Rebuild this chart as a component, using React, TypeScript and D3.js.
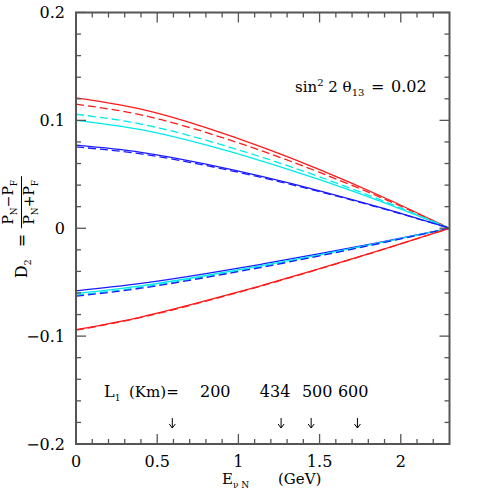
import { useEffect, useRef } from 'react';
import * as d3 from 'd3';

// energies where the curves were read (GeV)
const energy = [0, 0.4, 0.8, 1.15, 1.5, 1.9, 2.3];

// upper branch
const redSolidUp = [0.1208, 0.1104, 0.0933, 0.075, 0.0544, 0.0283, 0];
const redDashUp = [0.115, 0.1051, 0.0888, 0.0714, 0.0518, 0.027, 0];
const cyanDashUp = [0.1057, 0.0966, 0.0816, 0.0656, 0.0476, 0.0248, 0];
const cyanSolidUp = [0.1, 0.0914, 0.0772, 0.0621, 0.045, 0.0235, 0];
const blueSolidUp = [0.077, 0.0704, 0.0594, 0.0478, 0.0347, 0.0181, 0];
const blueDashUp = [0.0754, 0.0689, 0.0582, 0.0468, 0.0339, 0.0177, 0];

// lower branch
const blueSolidLo = [-0.058, -0.0511, -0.042, -0.0331, -0.0236, -0.0121, 0];
const cyanSolidLo = [-0.0605, -0.0534, -0.0438, -0.0345, -0.0246, -0.0126, 0];
const cyanDashLo = [-0.062, -0.0547, -0.0449, -0.0354, -0.0252, -0.0129, 0];
const blueDashLo = [-0.063, -0.0556, -0.0456, -0.036, -0.0256, -0.0131, 0];
const redSolidLo = [-0.094, -0.0823, -0.0672, -0.0528, -0.0375, -0.0191, 0];
const redDashLo = [-0.0945, -0.0827, -0.0676, -0.0531, -0.0377, -0.0192, 0];

// baseline arrows
const arrowEnergy = [0.593, 1.263, 1.448, 1.733];
const baselineLabels = ['434', '500', '600'];
const baselineLabelEnergy = [1.226, 1.485, 1.707];

const xTicks = [0, 0.5, 1, 1.5, 2];
const yTicks = [-0.2, -0.1, 0, 0.1, 0.2];

const RED = '#ff1a1a';
const CYAN = '#00eaea';
const BLUE = '#1a1aff';

const series = [
  { values: redSolidUp, color: RED, dash: null },
  { values: redDashUp, color: RED, dash: '8,4' },
  { values: cyanDashUp, color: CYAN, dash: '8,4' },
  { values: cyanSolidUp, color: CYAN, dash: null },
  { values: blueSolidUp, color: BLUE, dash: null },
  { values: blueDashUp, color: BLUE, dash: '8,4' },
  { values: blueSolidLo, color: BLUE, dash: null },
  { values: cyanSolidLo, color: CYAN, dash: null },
  { values: cyanDashLo, color: CYAN, dash: '8,4' },
  { values: blueDashLo, color: BLUE, dash: '8,4' },
  { values: redSolidLo, color: RED, dash: null },
  { values: redDashLo, color: RED, dash: '8,4' },
];

const FONT = '"DejaVu Serif", serif';

const App = () => {
  const svgRef = useRef<SVGSVGElement | null>(null);

  useEffect(() => {
    const width = 491;
    const height = 491;
    const margin = { top: 12.5, right: 41.5, bottom: 47, left: 76 };

    const svg = d3.select(svgRef.current);
    svg.selectAll('*').remove();
    svg.attr('width', width).attr('height', height);

    const x = d3
      .scaleLinear()
      .domain([0, 2.3])
      .range([margin.left, width - margin.right]);

    const y = d3
      .scaleLinear()
      .domain([-0.2, 0.2])
      .range([height - margin.bottom, margin.top]);

    const [x0, x1] = x.range();
    const [y0, y1] = y.range(); // y0 bottom, y1 top

    // curves
    const line = d3
      .line<number>()
      .x((_, i) => x(energy[i]))
      .y((d) => y(d))
      .curve(d3.curveNatural);

    series.forEach((s) => {
      svg
        .append('path')
        .attr('d', line(s.values))
        .attr('fill', 'none')
        .attr('stroke', s.color)
        .attr('stroke-width', 1.3)
        .attr('stroke-dasharray', s.dash);
    });

    // ticks on all four sides, pointing inward
    const tickColor = '#555';
    const ticks = svg.append('g').attr('stroke', tickColor).attr('stroke-width', 1.3);

    d3.range(0, 23).forEach((k) => {
      const v = k / 10;
      const len = k % 5 === 0 ? 10 : 5;
      ticks.append('line').attr('x1', x(v)).attr('x2', x(v)).attr('y1', y0).attr('y2', y0 - len);
      ticks.append('line').attr('x1', x(v)).attr('x2', x(v)).attr('y1', y1).attr('y2', y1 + len);
    });

    d3.range(-10, 11).forEach((k) => {
      const v = k / 50;
      const len = k % 5 === 0 ? 10 : 5;
      ticks.append('line').attr('x1', x0).attr('x2', x0 + len).attr('y1', y(v)).attr('y2', y(v));
      ticks.append('line').attr('x1', x1).attr('x2', x1 - len).attr('y1', y(v)).attr('y2', y(v));
    });

    // frame
    svg
      .append('rect')
      .attr('x', x0)
      .attr('y', y1)
      .attr('width', x1 - x0)
      .attr('height', y0 - y1)
      .attr('fill', 'none')
      .attr('stroke', tickColor)
      .attr('stroke-width', 2);

    // tick labels
    const fmt = (v: number) => (v === 0 ? '0' : String(v).replace('-', '\u2212'));

    svg
      .selectAll('.xl')
      .data(xTicks)
      .enter()
      .append('text')
      .attr('x', (d) => x(d))
      .attr('y', 467)
      .attr('text-anchor', 'middle')
      .attr('font-family', FONT)
      .attr('font-size', 16)
      .text((d) => fmt(d));

    svg
      .selectAll('.yl')
      .data(yTicks)
      .enter()
      .append('text')
      .attr('x', 65)
      .attr('y', (d) => y(d))
      .attr('dy', '0.35em')
      .attr('text-anchor', 'end')
      .attr('font-family', FONT)
      .attr('font-size', 16)
      .text((d) => fmt(d));

    // x title
    const xt = svg
      .append('text')
      .attr('y', 484)
      .attr('font-family', FONT)
      .attr('font-size', 15);
    xt.append('tspan').attr('x', 222).text('E');
    xt.append('tspan').attr('x', 233).attr('dy', 4).attr('font-size', 9).text('\u03bd  N');
    xt.append('tspan').attr('x', 278).attr('dy', -4).text('(GeV)');

    // y title, rotated
    const yt = svg
      .append('g')
      .attr('transform', `translate(0,${y(0)}) rotate(-90)`)
      .attr('font-family', FONT);

    const d2 = yt.append('text').attr('x', -50).attr('y', 27).attr('font-size', 16);
    d2.append('tspan').text('D');
    d2.append('tspan').attr('dy', 4).attr('font-size', 10).text('2');
    yt.append('text').attr('x', -19).attr('y', 27).attr('font-size', 16).text('=');

    const frac = (vBase: number, op: string) => {
      const t = yt
        .append('text')
        .attr('x', 26)
        .attr('y', vBase)
        .attr('text-anchor', 'middle')
        .attr('font-size', 14);
      t.append('tspan').text('P');
      t.append('tspan').attr('dy', 4).attr('font-size', 9).text('N');
      t.append('tspan').attr('dy', -4).text(op + 'P');
      t.append('tspan').attr('dy', 4).attr('font-size', 9).text('F');
    };
    frac(13, '\u2212');
    frac(34, '+');
    yt.append('line')
      .attr('x1', 0)
      .attr('x2', 52)
      .attr('y1', 21.5)
      .attr('y2', 21.5)
      .attr('stroke', '#000')
      .attr('stroke-width', 1);

    // mixing angle label
    const st = svg
      .append('text')
      .attr('y', 92)
      .attr('font-family', FONT)
      .attr('font-size', 15);
    st.append('tspan').attr('x', 295).text('sin');
    st.append('tspan').attr('dy', -6).attr('font-size', 10).text('2');
    st.append('tspan').attr('dy', 6).text(' 2 \u03b8');
    st.append('tspan').attr('dy', 4).attr('font-size', 10).text('13');
    st.append('tspan').attr('x', 371).attr('dy', -4).attr('font-size', 16).text('=');
    st.append('tspan').attr('x', 391).attr('font-size', 16).text('0.02');

    // baseline annotation
    const lt = svg
      .append('text')
      .attr('y', 397)
      .attr('font-family', FONT)
      .attr('font-size', 16);
    lt.append('tspan').attr('x', 104).text('L');
    lt.append('tspan').attr('dy', 4).attr('font-size', 9).text('1');
    lt.append('tspan').attr('x', 129).attr('dy', -4).attr('font-size', 15).text('(Km)=');
    lt.append('tspan').attr('x', 200).text('200');

    svg
      .selectAll('.bl')
      .data(baselineLabels)
      .enter()
      .append('text')
      .attr('x', (_, i) => x(baselineLabelEnergy[i]))
      .attr('y', 397)
      .attr('text-anchor', 'middle')
      .attr('font-family', FONT)
      .attr('font-size', 16)
      .text((d) => d);

    const arrows = svg.append('g').attr('stroke', '#000').attr('stroke-width', 1).attr('fill', 'none');
    arrowEnergy.forEach((e) => {
      const ax = x(e);
      arrows.append('line').attr('x1', ax).attr('x2', ax).attr('y1', 418).attr('y2', 428);
      arrows.append('path').attr('d', `M${ax - 3},${424} L${ax},${428} L${ax + 3},${424}`);
    });
  }, []);

  return (
    <div style={{ position: 'absolute', left: 0, top: 0, background: '#fff' }}>
      <svg ref={svgRef} style={{ display: 'block' }}></svg>
    </div>
  );
};

export default App;
